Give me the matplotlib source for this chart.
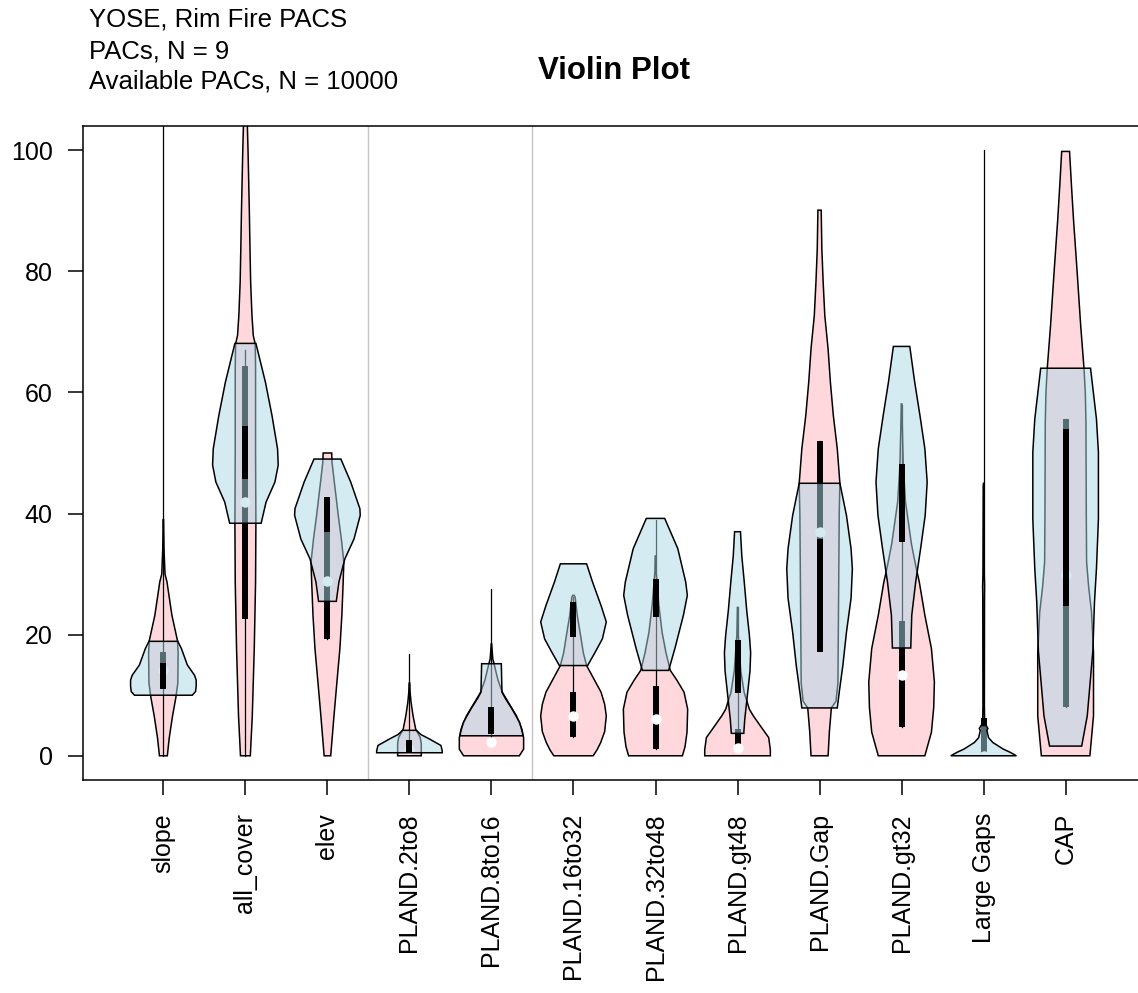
import numpy as np
import matplotlib
matplotlib.use('Agg')
import matplotlib.pyplot as plt

plt.rcParams['font.family'] = ['Liberation Sans', 'DejaVu Sans']

variables = ['slope', 'all_cover', 'elev', 'PLAND.2to8', 'PLAND.8to16', 'PLAND.16to32',
             'PLAND.32to48', 'PLAND.gt48', 'PLAND.Gap', 'PLAND.gt32', 'Large Gaps', 'CAP']

n_pacs = 9
n_avail = 10000

# violin outlines: (value, half width relative to the widest violin)
avail_shape = [
    [(0, 0.12), (3, 0.18), (6.6, 0.28), (9.6, 0.38), (12, 0.44), (17, 0.45), (19, 0.43),
     (23.2, 0.26), (28.7, 0.11), (30, 0.05), (34, 0.02), (39, 0.006)],
    [(0, 0.15), (6.6, 0.21), (17.7, 0.27), (28.7, 0.31), (38.4, 0.32), (50, 0.31), (64, 0.31),
     (68, 0.30), (69.4, 0.24), (72.7, 0.2), (78.2, 0.16), (83.7, 0.14), (90, 0.12), (95, 0.10),
     (100, 0.08), (106, 0.05)],
    [(0, 0.10), (6.6, 0.20), (12.2, 0.29), (17.7, 0.38), (23.2, 0.44), (28.7, 0.48), (32, 0.50),
     (36, 0.42), (39.7, 0.33), (45.2, 0.21), (48.5, 0.14), (50, 0.13)],
    [(0, 0.36), (2, 0.36), (3, 0.33), (4.4, 0.19), (6.6, 0.11), (8.8, 0.05), (10.5, 0.02),
     (12, 0.01)],
    [(0, 0.85), (1.1, 0.98), (3.0, 0.98), (4.5, 0.92), (6.6, 0.76), (8.5, 0.55), (10.5, 0.33),
     (12.5, 0.2), (13.8, 0.14), (15.2, 0.08), (16, 0.04), (18.2, 0.01), (18.5, 0.005)],
    [(0, 0.6), (1, 0.72), (2.2, 0.83), (4, 0.95), (6.6, 1.0), (8.5, 0.95), (10.5, 0.84),
     (13.3, 0.56), (14.9, 0.40), (17, 0.3), (20.4, 0.2), (23, 0.12), (26.2, 0.05), (26.5, 0.02)],
    [(0, 0.82), (1.5, 0.9), (3.9, 0.96), (7.7, 0.98), (10.5, 0.87), (12.5, 0.65), (14.1, 0.45),
     (17, 0.32), (20.4, 0.2), (25, 0.1), (30.3, 0.02), (33, 0.01)],
    [(0, 1.0), (1, 1.0), (3.0, 0.95), (4.6, 0.74), (6.6, 0.48), (7.7, 0.36), (10.5, 0.2),
     (14, 0.1), (17.7, 0.05), (20, 0.02), (24.5, 0.005)],
    [(0, 0.26), (4, 0.30), (7.9, 0.36), (9, 0.5), (12, 0.56), (26, 0.58), (40, 0.6), (45, 0.62),
     (50.7, 0.54), (56.2, 0.42), (61.7, 0.33), (67.2, 0.26), (72.7, 0.16), (78.2, 0.11),
     (83.7, 0.07), (90.1, 0.05)],
    [(0, 0.71), (3.9, 0.91), (8, 0.98), (12.2, 1.0), (17.7, 0.91), (23.2, 0.71), (28.7, 0.54),
     (31.4, 0.43), (35, 0.3), (41.9, 0.12), (48, 0.05), (55, 0.02), (58.1, 0.01)],
    [(0, 0.06), (3, 0.04), (5, 0.03), (8.3, 0.02), (26, 0.025), (28, 0.03), (30, 0.02),
     (44.6, 0.012), (45, 0.002)],
    [(0, 0.74), (6.6, 0.85), (17, 0.85), (23.7, 0.79), (28, 0.7), (32, 0.64), (40, 0.63),
     (55, 0.62), (60, 0.6), (64, 0.56), (71, 0.46), (80, 0.35), (88.6, 0.24), (94, 0.18),
     (99.8, 0.12)],
]

pacs_shape = [
    [(10.0, 0.88), (10.6, 0.98), (11.5, 1.0), (12.5, 1.0), (13.3, 0.95), (15.0, 0.73),
     (17.7, 0.55), (18.9, 0.44)],
    [(38.4, 0.48), (41.9, 0.63), (45.2, 0.90), (48, 1.0), (50.7, 0.98), (56.2, 0.81),
     (61.7, 0.61), (68.1, 0.32)],
    [(25.5, 0.27), (28.7, 0.35), (32.5, 0.53), (35.8, 0.81), (39.7, 1.0), (40.8, 0.99),
     (45.2, 0.71), (49.0, 0.41)],
    [(0.5, 1.0), (0.8, 1.0), (1.7, 0.96), (2.8, 0.6), (3.5, 0.35), (4.2, 0.21)],
    [(3.3, 0.96), (3.9, 0.94), (5.5, 0.86), (7.7, 0.63), (9.5, 0.42), (10.5, 0.32), (15.2, 0.30)],
    [(14.9, 0.43), (17.1, 0.66), (19.3, 0.88), (22.1, 1.0), (24.8, 0.84), (28.7, 0.58),
     (31.7, 0.40)],
    [(14.1, 0.40), (17.7, 0.59), (23.2, 0.85), (26.5, 0.97), (28.7, 0.92), (34.2, 0.68),
     (39.2, 0.28)],
    [(3.7, 0.19), (6, 0.22), (10, 0.3), (14, 0.38), (17, 0.40), (20, 0.36), (24, 0.28),
     (29, 0.2), (33, 0.13), (37, 0.09)],
    [(7.9, 0.54), (10.5, 0.60), (14.9, 0.71), (20.4, 0.82), (26.0, 0.96), (30.9, 1.0),
     (34.2, 0.96), (39.7, 0.82), (45.0, 0.62)],
    [(17.8, 0.28), (23.2, 0.31), (28.7, 0.43), (34.2, 0.58), (39.7, 0.72), (45.2, 0.78),
     (50.7, 0.71), (56.2, 0.56), (61.7, 0.40), (67.6, 0.25)],
    [(0, 1.0), (0.6, 0.8), (1.1, 0.6), (2.2, 0.28), (3.0, 0.15), (4.2, 0.10), (4.5, 0.13),
     (5.0, 0.08)],
    [(1.6, 0.49), (6.6, 0.66), (17.3, 0.83), (25.4, 0.88), (30.9, 0.94), (39.1, 1.0),
     (50.1, 1.0), (55.6, 0.94), (64.0, 0.76)],
]

# box and whisker stats, Available PACs
avail_q1 = [11.0, 22.6, 19.3, 0.5, 2.0, 3.1, 1.2, 1.0, 20.0, 4.7, 0.0, 8.0]
avail_q3 = [17.1, 64.4, 38.0, 2.0, 2.6, 10.5, 11.6, 4.5, 52.0, 22.3, 6.3, 55.6]
avail_med = [14.1, 41.9, 28.8, 1.2, 2.3, 6.65, 6.1, 1.3, 37.0, 13.4, 0.0, 29.9]
avail_lo = [0.0, 0.0, 19.3, 0.5, 2.0, 3.1, 1.2, 1.0, 20.0, 4.7, 0.0, 8.0]
avail_hi = [110.0, 67.0, 38.0, 16.8, 27.6, 26.2, 39.0, 24.5, 52.0, 58.0, 100.0, 55.6]

# box stats, PACs
pacs_q1 = [11.1, 45.7, 36.9, 0.6, 3.6, 19.6, 22.9, 10.4, 17.1, 35.3, np.nan, 24.8]
pacs_q3 = [15.4, 54.5, 42.7, 2.6, 8.0, 25.4, 29.2, 19.1, 35.8, 48.2, np.nan, 54.0]

pos = np.arange(1, len(variables) + 1)
hw = 0.4
pink = '#FFD8DE'
blue = (173 / 255, 216 / 255, 230 / 255, 0.5)


def draw_violin(ax, x, shape, face, z):
    ys = np.array([p[0] for p in shape])
    ws = np.array([p[1] for p in shape]) * hw
    xs = np.concatenate([x + ws, (x - ws)[::-1]])
    yy = np.concatenate([ys, ys[::-1]])
    ax.fill(xs, yy, facecolor=face, edgecolor='black', lw=1.1, zorder=z)


fig = plt.figure(figsize=(11.38, 9.93), dpi=100)
ax = fig.add_axes([83 / 1138, 1 - 780 / 993, (1146 - 83) / 1138, (780 - 126) / 993])

for i, x in enumerate(pos):
    draw_violin(ax, x, avail_shape[i], pink, 2)
    ax.plot([x, x], [avail_lo[i], avail_hi[i]], color='black', lw=0.9, zorder=3)
    ax.plot([x, x], [avail_q1[i], avail_q3[i]], color='black', lw=4.3,
            solid_capstyle='butt', zorder=4)
    ax.plot(x, avail_med[i], 'o', color='white', ms=6.5, zorder=5)

for i, x in enumerate(pos):
    draw_violin(ax, x, pacs_shape[i], blue, 6)
    if not np.isnan(pacs_q1[i]):
        ax.plot([x, x], [pacs_q1[i], pacs_q3[i]], color='black', lw=4.3,
                solid_capstyle='butt', zorder=7)

for xv in [3.5, 5.5]:
    ax.axvline(xv, color='#C4C4C4', lw=1.0, zorder=1)

ax.set_xlim(0.02, 12.98)
ax.set_ylim(-4, 104)
ax.set_xticks(pos)
ax.set_xticklabels(variables, rotation=90, fontsize=18)
ax.set_yticks([0, 20, 40, 60, 80, 100])
ax.tick_params(axis='y', labelsize=18, length=10.8, width=1.1, pad=11)
ax.tick_params(axis='x', length=10.8, width=1.1, pad=13)
for sp in ax.spines.values():
    sp.set_linewidth(1.1)

fig.text(89 / 1138, 1 - 27 / 993, 'YOSE, Rim Fire PACS', fontsize=18.5, va='baseline')
fig.text(89 / 1138, 1 - 58 / 993, 'PACs, N = %d' % n_pacs, fontsize=18.5, va='baseline')
fig.text(89 / 1138, 1 - 89 / 993, 'Available PACs, N = %d' % n_avail, fontsize=18.5,
         va='baseline')
fig.text(614 / 1138, 1 - 79 / 993, 'Violin Plot', fontsize=22.5, fontweight='bold',
         ha='center', va='baseline')

fig.savefig('out.png', dpi=100)
